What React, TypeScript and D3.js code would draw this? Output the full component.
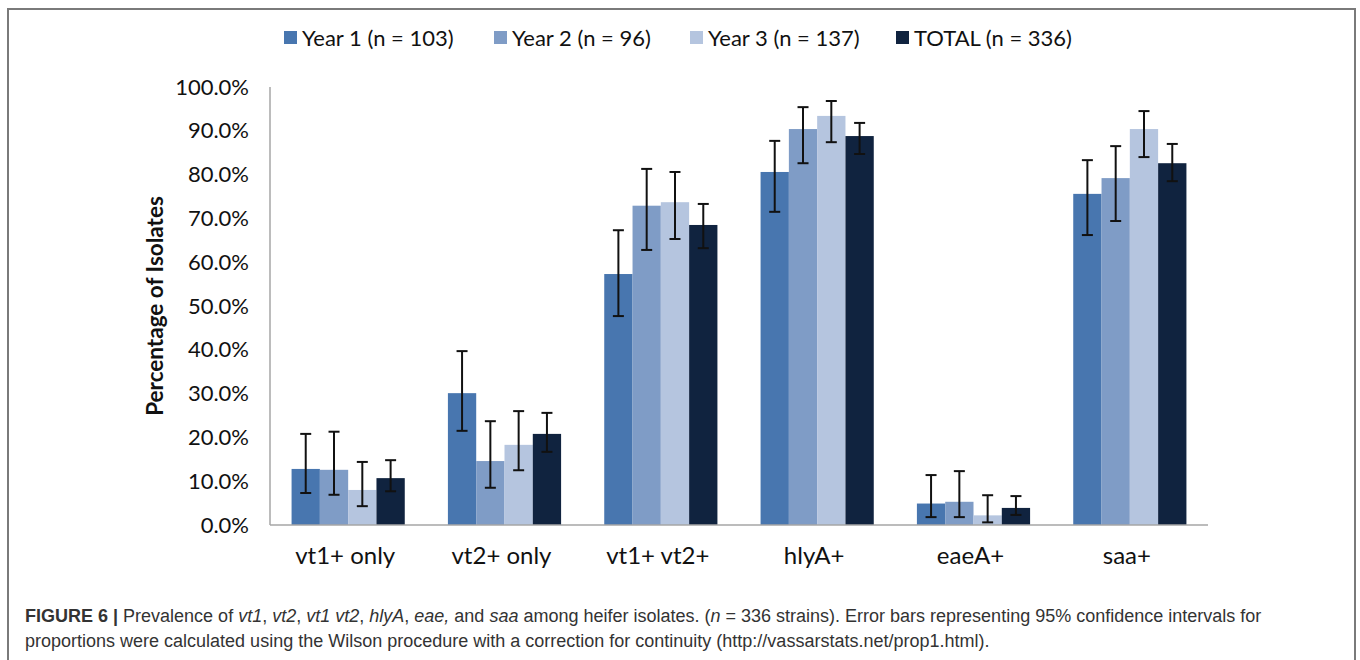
import React from 'react';
import * as d3 from 'd3';

const categories = ['vt1+ only', 'vt2+ only', 'vt1+ vt2+', 'hlyA+', 'eaeA+', 'saa+'];
const seriesNames = ['Year 1 (n = 103)', 'Year 2 (n = 96)', 'Year 3 (n = 137)', 'TOTAL (n = 336)'];
const seriesColors = ['#4876AF', '#7F9CC6', '#B5C5DF', '#10233F'];

// percentages per series, same order as categories
const year1 = [12.8, 30.1, 57.3, 80.6, 4.9, 75.6];
const year2 = [12.6, 14.6, 72.9, 90.4, 5.3, 79.2];
const year3 = [8.0, 18.3, 73.7, 93.4, 2.2, 90.4];
const total = [10.7, 20.8, 68.5, 88.8, 3.9, 82.6];

// 95% CI bounds
const year1Low = [7.3, 21.5, 47.7, 71.5, 1.8, 66.2];
const year1High = [20.8, 39.7, 67.3, 87.7, 11.4, 83.3];
const year2Low = [6.9, 8.5, 62.8, 82.6, 1.8, 69.4];
const year2High = [21.3, 23.7, 81.3, 95.4, 12.3, 86.5];
const year3Low = [4.3, 12.5, 65.3, 87.4, 0.6, 84.0];
const year3High = [14.4, 26.0, 80.6, 96.8, 6.8, 94.5];
const totalLow = [7.7, 16.7, 63.2, 84.7, 2.3, 78.5];
const totalHigh = [14.8, 25.6, 73.3, 91.8, 6.6, 87.0];

const yTicks = [0, 10, 20, 30, 40, 50, 60, 70, 80, 90, 100];

const values = [year1, year2, year3, total];
const lows = [year1Low, year2Low, year3Low, totalLow];
const highs = [year1High, year2High, year3High, totalHigh];

const W = 1360;
const H = 660;
const plot = { left: 270, right: 1208, top: 87, bottom: 525 };
const font = 'Lato, "Open Sans", sans-serif';
const capFont = '"Liberation Sans", Arial, sans-serif';

export default function App() {
  const x = d3.scaleBand<string>()
    .domain(categories)
    .range([plot.left, plot.right])
    .paddingInner(0.276)
    .paddingOuter(0.138);
  const xs = d3.scaleBand<number>()
    .domain(d3.range(seriesNames.length))
    .range([0, x.bandwidth()]);
  const y = d3.scaleLinear().domain([0, 100]).range([plot.bottom, plot.top]);
  const cap = 5.5;

  const legendX = [284, 494, 690, 896];

  return (
    <div style={{ position: 'absolute', left: 0, top: 0 }}>
      <svg width={W} height={H} style={{ display: 'block', background: '#fff' }}>
        <rect x={8} y={9} width={1347} height={700} fill="none" stroke="#7a7a7a" strokeWidth={2} />

        {/* legend */}
        {seriesNames.map((name, i) => (
          <g key={name} transform={`translate(${legendX[i]},31)`}>
            <rect x={0} y={0} width={13} height={13} fill={seriesColors[i]} />
            <text x={18} y={14.5} fontFamily={font} fontSize={22} fill="#111">{name}</text>
          </g>
        ))}

        {/* y axis labels */}
        {yTicks.map(t => (
          <text key={t} x={249} y={y(t) + 7.5} textAnchor="end" fontFamily={font} fontSize={22} fill="#111">
            {d3.format('.1f')(t) + '%'}
          </text>
        ))}
        <text
          transform={`translate(163,${(plot.top + plot.bottom) / 2}) rotate(-90)`}
          textAnchor="middle"
          fontFamily={font}
          fontWeight="bold"
          fontSize={22.5}
          fill="#111"
        >Percentage of Isolates</text>

        {/* bars */}
        {categories.map((c, ci) => (
          <g key={c} transform={`translate(${x(c)},0)`}>
            {values.map((vals, si) => (
              <rect
                key={si}
                x={xs(si)}
                y={y(vals[ci])}
                width={xs.bandwidth()}
                height={y(0) - y(vals[ci])}
                fill={seriesColors[si]}
              />
            ))}
            {values.map((_, si) => {
              const cx = (xs(si) as number) + xs.bandwidth() / 2;
              const lo = y(lows[si][ci]);
              const hi = y(highs[si][ci]);
              return (
                <g key={'e' + si} stroke="#111" strokeWidth={2}>
                  <line x1={cx} x2={cx} y1={lo} y2={hi} />
                  <line x1={cx - cap} x2={cx + cap} y1={hi} y2={hi} />
                  <line x1={cx - cap} x2={cx + cap} y1={lo} y2={lo} />
                </g>
              );
            })}
          </g>
        ))}

        {/* axes */}
        <line x1={plot.left} x2={plot.left} y1={plot.top} y2={plot.bottom} stroke="#a6a6a6" strokeWidth={1.5} />
        <line x1={plot.left} x2={plot.right} y1={plot.bottom} y2={plot.bottom} stroke="#a6a6a6" strokeWidth={1.5} />

        {categories.map(c => (
          <text key={c} x={(x(c) as number) + x.bandwidth() / 2 - 3} y={564} textAnchor="middle" fontFamily={font} fontSize={24} fill="#111">
            {c}
          </text>
        ))}

        {/* caption */}
        <text x={25} y={622} fontFamily={capFont} fontSize={18} fill="#333">
          <tspan fontWeight="bold">FIGURE 6 | </tspan>
          <tspan>Prevalence of </tspan><tspan fontStyle="italic">vt1</tspan><tspan>, </tspan>
          <tspan fontStyle="italic">vt2</tspan><tspan>, </tspan>
          <tspan fontStyle="italic">vt1 vt2</tspan><tspan>, </tspan>
          <tspan fontStyle="italic">hlyA</tspan><tspan>, </tspan>
          <tspan fontStyle="italic">eae,</tspan><tspan> and </tspan>
          <tspan fontStyle="italic">saa</tspan>
          <tspan> among heifer isolates. (</tspan><tspan fontStyle="italic">n</tspan>
          <tspan> = 336 strains). Error bars representing 95% confidence intervals for</tspan>
        </text>
        <text x={25} y={647} fontFamily={capFont} fontSize={18} fill="#333">
          proportions were calculated using the Wilson procedure with a correction for continuity (http://vassarstats.net/prop1.html).
        </text>
      </svg>
    </div>
  );
}
